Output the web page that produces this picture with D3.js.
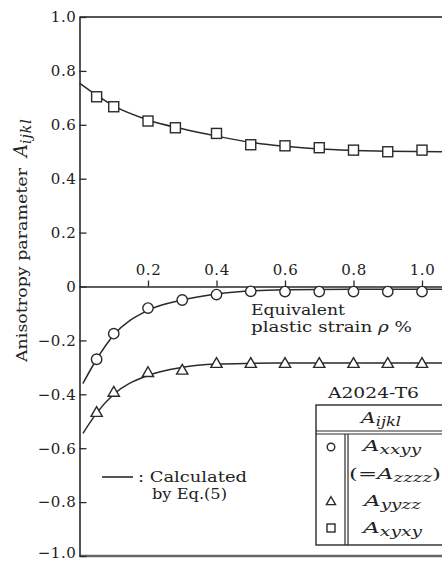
<!DOCTYPE html>
<html>
<head>
<meta charset="utf-8">
<script src="https://cdn.jsdelivr.net/npm/d3@7"></script>
<style>
  body { margin: 0; background: #fff; }
  text { font-family: "DejaVu Serif", serif; fill: #222; }
</style>
</head>
<body>
<div id="chart"></div>
<script>
// measured points (equivalent plastic strain rho %, anisotropy parameter)
const rhoPts = [0.05, 0.1, 0.2, 0.3, 0.4, 0.5, 0.6, 0.7, 0.8, 0.9, 1.0];
const rhoSq  = [0.05, 0.1, 0.2, 0.28, 0.4, 0.5, 0.6, 0.7, 0.8, 0.9, 1.0];
const Axxyy = [-0.27, -0.175, -0.08, -0.05, -0.03, -0.018, -0.019, -0.019, -0.019, -0.019, -0.019];
const Ayyzz = [-0.47, -0.395, -0.322, -0.313, -0.288, -0.288, -0.288, -0.288, -0.288, -0.288, -0.288];
const Axyxy = [0.704, 0.667, 0.614, 0.589, 0.568, 0.526, 0.522, 0.515, 0.506, 0.5, 0.506];

// calculated curves
const curveRho = [0.01, 0.05, 0.1, 0.2, 0.3, 0.4, 0.5, 0.6, 0.8, 1.1];
const calcXxyy = [-0.36, -0.27, -0.18, -0.088, -0.05, -0.028, -0.016, -0.012, -0.01, -0.01];
const calcYyzz = [-0.545, -0.47, -0.40, -0.33, -0.30, -0.288, -0.285, -0.284, -0.284, -0.284];
const curveRhoSq = [0.0, 0.05, 0.1, 0.2, 0.3, 0.4, 0.5, 0.6, 0.7, 0.8, 0.9, 1.1];
const calcXyxy = [0.755, 0.71, 0.67, 0.618, 0.585, 0.558, 0.535, 0.52, 0.51, 0.505, 0.502, 0.5];

const xTicks = [0.2, 0.4, 0.6, 0.8, 1.0];
const yTicks = [1.0, 0.8, 0.6, 0.4, 0.2, 0, -0.2, -0.4, -0.6, -0.8, -1.0];

const W = 442, H = 561;
const ink = "#2a2a2a";
const fit = "spacingAndGlyphs";

const svg = d3.select("#chart").append("svg")
    .attr("width", W)
    .attr("height", H);

const x = d3.scaleLinear().domain([0, 1]).range([79.5, 422]);
const y = d3.scaleLinear().domain([-1, 1]).range([556, 17]);

// frame lines (right side runs off the picture)
svg.append("line").attr("x1", x(0)).attr("x2", W + 5)
    .attr("y1", y(1)).attr("y2", y(1))
    .attr("stroke", "#555").attr("stroke-width", 2);
svg.append("line").attr("x1", x(0)).attr("x2", W + 5)
    .attr("y1", y(-1)).attr("y2", y(-1))
    .attr("stroke", "#666").attr("stroke-width", 2.5);

// y axis, ticks pointing inward
const fmtY = d => d === 0 ? "0" : d3.format(".1f")(d).replace("-", "\u2212");
svg.append("g")
    .attr("transform", "translate(" + x(0) + ",0)")
    .call(d3.axisLeft(y).tickValues(yTicks).tickSize(-7).tickSizeOuter(0)
        .tickPadding(3).tickFormat(fmtY))
    .call(g => g.select(".domain").attr("stroke", ink).attr("stroke-width", 1.6))
    .call(g => g.selectAll(".tick line").attr("stroke", ink).attr("stroke-width", 1.3))
    .call(g => g.selectAll(".tick text").style("font-size", "15px")
        .attr("letter-spacing", "0.6")
        .style("font-family", "DejaVu Serif").attr("fill", "#222"))
    .call(g => g.selectAll(".tick text").filter(d => d === -1).attr("dy", "0.1em"));

// x axis along zero line
const xAxisScale = x.copy().domain([0, (W + 5 - 79.5) / (422 - 79.5)]).range([79.5, W + 5]);
svg.append("g")
    .attr("transform", "translate(0," + y(0) + ")")
    .call(d3.axisTop(xAxisScale).tickValues(xTicks).tickSize(6).tickSizeOuter(0)
        .tickPadding(6).tickFormat(d3.format(".1f")))
    .call(g => g.select(".domain").attr("stroke", ink).attr("stroke-width", 1.6))
    .call(g => g.selectAll(".tick line").attr("stroke", ink).attr("stroke-width", 1.3))
    .call(g => g.selectAll(".tick text").style("font-size", "15px")
        .attr("letter-spacing", "0.6")
        .style("font-family", "DejaVu Serif").attr("fill", "#222"));

// calculated curves
const line = d3.line().x(d => x(d[0])).y(d => y(d[1])).curve(d3.curveMonotoneX);
[[curveRho, calcXxyy], [curveRho, calcYyzz], [curveRhoSq, calcXyxy]].forEach(c => {
    svg.append("path")
        .datum(c[0].map((r, i) => [r, c[1][i]]))
        .attr("d", line)
        .attr("fill", "none")
        .attr("stroke", ink)
        .attr("stroke-width", 1.5);
});

// markers
const mk = { fill: "#fff", stroke: ink, sw: 1.4 };
svg.append("g").selectAll("circle")
    .data(rhoPts.map((r, i) => [r, Axxyy[i]]))
    .join("circle")
    .attr("cx", d => x(d[0])).attr("cy", d => y(d[1])).attr("r", 5.2)
    .attr("fill", mk.fill).attr("stroke", mk.stroke).attr("stroke-width", mk.sw);

const tri = d3.symbol().type(d3.symbolTriangle).size(55);
svg.append("g").selectAll("path")
    .data(rhoPts.map((r, i) => [r, Ayyzz[i]]))
    .join("path")
    .attr("d", tri)
    .attr("transform", d => "translate(" + x(d[0]) + "," + y(d[1]) + ")")
    .attr("fill", mk.fill).attr("stroke", mk.stroke).attr("stroke-width", mk.sw);

svg.append("g").selectAll("rect")
    .data(rhoSq.map((r, i) => [r, Axyxy[i]]))
    .join("rect")
    .attr("x", d => x(d[0]) - 5).attr("y", d => y(d[1]) - 5)
    .attr("width", 10).attr("height", 10)
    .attr("fill", mk.fill).attr("stroke", mk.stroke).attr("stroke-width", mk.sw);

// axis title
svg.append("text")
    .attr("transform", "translate(27,362) rotate(-90)")
    .style("font-size", "14px")
    .attr("textLength", 194).attr("lengthAdjust", fit)
    .text("Anisotropy parameter");
const ya = svg.append("text")
    .attr("transform", "translate(27,157) rotate(-90)")
    .attr("font-style", "italic");
ya.append("tspan").style("font-size", "18px").text("A");
ya.append("tspan").attr("dy", 4).style("font-size", "14px").attr("letter-spacing", "1").text("ijkl");

// x title inside the plot
svg.append("text").attr("x", 251).attr("y", 315).style("font-size", "15px")
    .attr("textLength", 94).attr("lengthAdjust", fit).text("Equivalent");
const xt = svg.append("text").attr("x", 251).attr("y", 332).style("font-size", "15px")
    .attr("textLength", 161).attr("lengthAdjust", fit);
xt.append("tspan").text("plastic strain ");
xt.append("tspan").attr("font-style", "italic").text("\u03c1");
xt.append("tspan").text(" %");

// calculated note
svg.append("line").attr("x1", 102).attr("x2", 133).attr("y1", 477).attr("y2", 477)
    .attr("stroke", ink).attr("stroke-width", 1.6);
svg.append("text").attr("x", 138).attr("y", 482).style("font-size", "15px")
    .attr("textLength", 109).attr("lengthAdjust", fit).text(": Calculated");
svg.append("text").attr("x", 152).attr("y", 499).style("font-size", "15px")
    .attr("textLength", 75).attr("lengthAdjust", fit).text("by Eq.(5)");

// legend table
svg.append("text").attr("x", 328).attr("y", 398)
    .style("font-size", "14px")
    .attr("textLength", 91).attr("lengthAdjust", fit).text("A2024-T6");
const lg = svg.append("g").attr("fill", "none").attr("stroke", ink);
lg.append("rect").attr("x", 316).attr("y", 405).attr("width", 140).attr("height", 140)
    .attr("stroke-width", 1.4);
lg.append("line").attr("x1", 316).attr("x2", 456).attr("y1", 431).attr("y2", 431)
    .attr("stroke-width", 1.2);
lg.append("line").attr("x1", 316).attr("x2", 456).attr("y1", 434).attr("y2", 434)
    .attr("stroke-width", 1.2);
lg.append("line").attr("x1", 345).attr("x2", 345).attr("y1", 434).attr("y2", 545)
    .attr("stroke-width", 1.2);
lg.append("line").attr("x1", 348).attr("x2", 348).attr("y1", 434).attr("y2", 545)
    .attr("stroke-width", 1.2);

function subLabel(x0, yy, len, main, sub, pre, post) {
    const t = svg.append("text").attr("x", x0).attr("y", yy)
        .style("font-size", "15px")
        .attr("textLength", len).attr("lengthAdjust", fit);
    if (pre) t.append("tspan").text(pre);
    t.append("tspan").attr("font-style", "italic").text(main);
    t.append("tspan").attr("font-style", "italic").attr("dy", 3).style("font-size", "12px").text(sub);
    if (post) t.append("tspan").attr("dy", -3).text(post);
}
subLabel(361, 423, 40, "A", "ijkl");
subLabel(363, 451, 58, "A", "xxyy");
subLabel(349, 479, 92, "A", "zzzz", "(=", ")");
subLabel(364, 506, 57, "A", "yyzz");
subLabel(363, 533, 59, "A", "xyxy");

lg.append("circle").attr("cx", 331).attr("cy", 447).attr("r", 3.8).attr("stroke-width", 1.4);
lg.append("path").attr("d", d3.symbol().type(d3.symbolTriangle).size(36))
    .attr("transform", "translate(331,502)").attr("stroke-width", 1.4);
lg.append("rect").attr("x", 327).attr("y", 524).attr("width", 8).attr("height", 8)
    .attr("stroke-width", 1.4);
</script>
</body>
</html>
